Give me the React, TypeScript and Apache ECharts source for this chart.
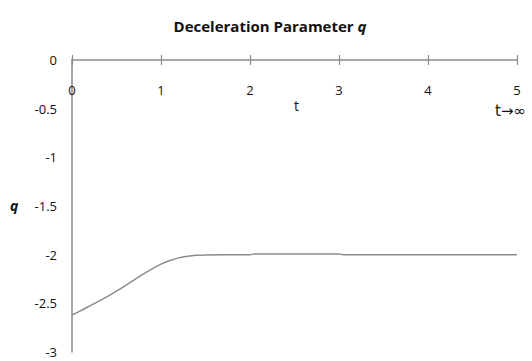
import React, { useEffect, useRef } from "react";
import * as echarts from "echarts";

const tValues = [0, 0.1, 0.2, 0.3, 0.4, 0.5, 0.6, 0.7, 0.8, 0.9, 1.0, 1.1, 1.2, 1.3, 1.4, 1.5, 2.0, 2.05, 3.0, 3.05, 5.0];
const qValues = [-2.62, -2.575, -2.527, -2.478, -2.428, -2.374, -2.317, -2.258, -2.2, -2.145, -2.097, -2.06, -2.033, -2.016, -2.007, -2.003, -2.0, -1.994, -1.994, -2.0, -2.0];
const xTicks = ["0", "1", "2", "3", "4", "5"];

const FONT = "'Open Sans', 'DejaVu Sans', sans-serif";

export default function App() {
  const ref = useRef<HTMLDivElement>(null);
  useEffect(() => {
    if (!ref.current) return;
    const chart = echarts.init(ref.current, undefined, { renderer: "svg" });
    const data = tValues.map((t, i) => [t, qValues[i]]);
    chart.setOption({
      animation: false,
      backgroundColor: "#ffffff",
      title: {
        text: "{a|Deceleration Parameter }{b|q}",
        left: 265,
        top: 13,
        textAlign: "center",
        textStyle: {
          rich: {
            a: { fontFamily: FONT, fontWeight: "bold", fontSize: 15, color: "#111" },
            b: { fontFamily: FONT, fontWeight: "bold", fontStyle: "italic", fontSize: 15, color: "#111" },
          },
        },
      },
      grid: [
        { left: 72, right: 15, top: 60, bottom: 9, containLabel: false, outerBoundsMode: "none" },
        { left: 72, right: 15, top: 55, height: 10, containLabel: false, outerBoundsMode: "none" },
      ],
      xAxis: [
        {
          type: "value",
          gridIndex: 0,
          min: 0,
          max: 5,
          interval: 1,
          position: "top",
          axisLine: { onZero: false, lineStyle: { color: "#8a8a8a", width: 1.5 } },
          axisTick: { show: false },
          axisLabel: {
            inside: true,
            margin: 23,
            color: "#111",
            fontFamily: FONT,
            fontSize: 13,
            formatter: (v: number) => xTicks[Math.round(v)] ?? "",
          },
          splitLine: { show: false },
        },
        {
          type: "value",
          gridIndex: 1,
          min: 0,
          max: 5,
          interval: 1,
          position: "bottom",
          axisLine: { show: false, onZero: false },
          axisTick: { show: true, inside: true, length: 10, lineStyle: { color: "#8a8a8a", width: 1.2 } },
          axisLabel: { show: false },
          splitLine: { show: false },
        },
      ],
      yAxis: [
        {
          type: "value",
          gridIndex: 0,
          min: -3,
          max: 0,
          interval: 0.5,
          axisLine: { show: true, lineStyle: { color: "#8a8a8a", width: 1.5 } },
          axisTick: { show: false },
          axisLabel: { margin: 15, color: "#111", fontFamily: FONT, fontSize: 13 },
          splitLine: { show: false },
        },
        {
          type: "value",
          gridIndex: 1,
          min: 0,
          max: 1,
          show: false,
        },
      ],
      graphic: [
        {
          type: "text",
          left: 294,
          top: 98,
          style: { text: "t", fontFamily: FONT, fontSize: 14, fill: "#111" },
        },
        {
          type: "text",
          left: 495,
          top: 103,
          style: { text: "t→∞", fontFamily: "'DejaVu Sans', sans-serif", fontSize: 15, fill: "#111" },
        },
        {
          type: "text",
          left: 10,
          top: 198,
          style: { text: "q", fontFamily: FONT, fontSize: 14, fontWeight: "bold", fontStyle: "italic", fill: "#111" },
        },
      ],
      series: [
        {
          type: "line",
          xAxisIndex: 0,
          yAxisIndex: 0,
          data,
          showSymbol: false,
          symbol: "none",
          smooth: 0.3,
          lineStyle: { color: "#8c8c8c", width: 1.5 },
        },
      ],
    });
    return () => chart.dispose();
  }, []);
  return <div ref={ref} style={{ width: 532, height: 361, position: "absolute", left: 0, top: 0 }} />;
}
